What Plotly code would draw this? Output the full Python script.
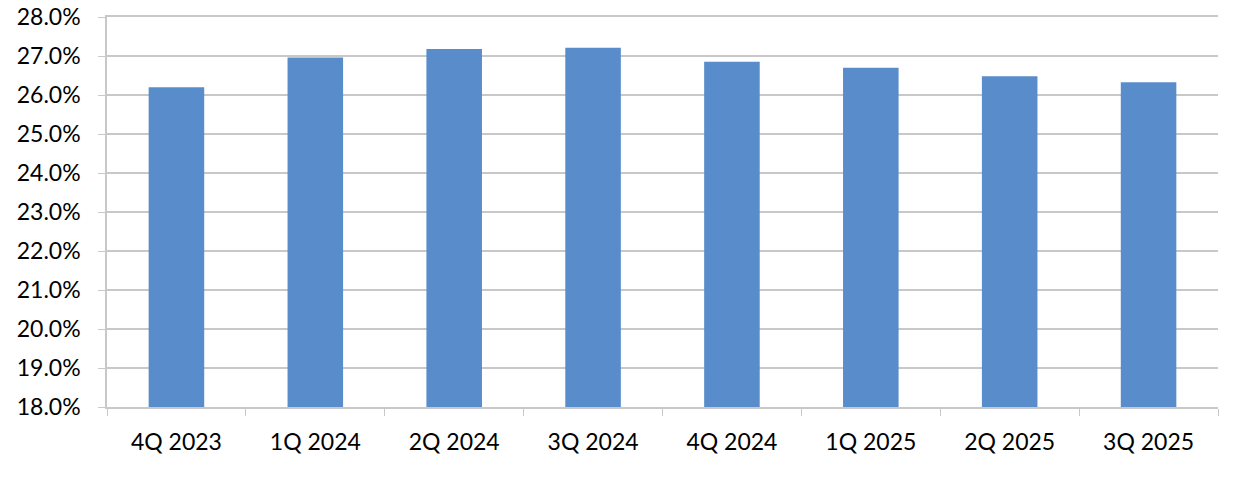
import plotly.graph_objects as go

# Chart data
QUARTERS = ['4Q 2023', '1Q 2024', '2Q 2024', '3Q 2024', '4Q 2024', '1Q 2025', '2Q 2025', '3Q 2025']
RATIOS = [26.20, 26.96, 27.18, 27.21, 26.85, 26.70, 26.48, 26.33]
Y_TICKS = [18, 19, 20, 21, 22, 23, 24, 25, 26, 27, 28]

BAR_BLUE = '#598CCA'
GRID_GREY = '#C8C8C8'

fig = go.Figure()

fig.add_trace(go.Bar(
    x=QUARTERS,
    y=RATIOS,
    base=0,
    marker=dict(color=BAR_BLUE, line=dict(width=0)),
    hovertemplate='%{x}: %{y:.1f}%<extra></extra>'
))

fig.update_layout(
    width=1233,
    height=478,
    margin=dict(l=107, r=15, t=17, b=71),
    paper_bgcolor='white',
    plot_bgcolor='white',
    bargap=0.6,
    showlegend=False,
    font=dict(family='Lato, Open Sans, sans-serif', size=23, color='#000000'),
)

fig.update_xaxes(
    type='category',
    automargin=False,
    showline=True,
    mirror=True,  # top line stands in for the 28% gridline
    linecolor=GRID_GREY,
    linewidth=1.5,
    ticks='outside',
    tickson='boundaries',
    ticklen=7,
    tickcolor=GRID_GREY,
    showgrid=False,
    ticklabelstandoff=14,
)

fig.update_yaxes(
    range=[18, 28],
    automargin=False,
    tickvals=Y_TICKS,
    ticktext=[f'{v:.1f}%' for v in Y_TICKS],
    ticklabeloverflow='allow',
    showline=True,
    linecolor=GRID_GREY,
    linewidth=1.5,
    ticks='outside',
    ticklen=7,
    tickcolor=GRID_GREY,
    showgrid=True,
    gridcolor=GRID_GREY,
    gridwidth=1.5,
    zeroline=False,
    ticklabelstandoff=13,
)

# drop the browser's default body margin so the figure sits at the page corner
fig.write_html(
    'out.html',
    config={'displayModeBar': False},
    post_script="document.body.style.margin='0';",
)
